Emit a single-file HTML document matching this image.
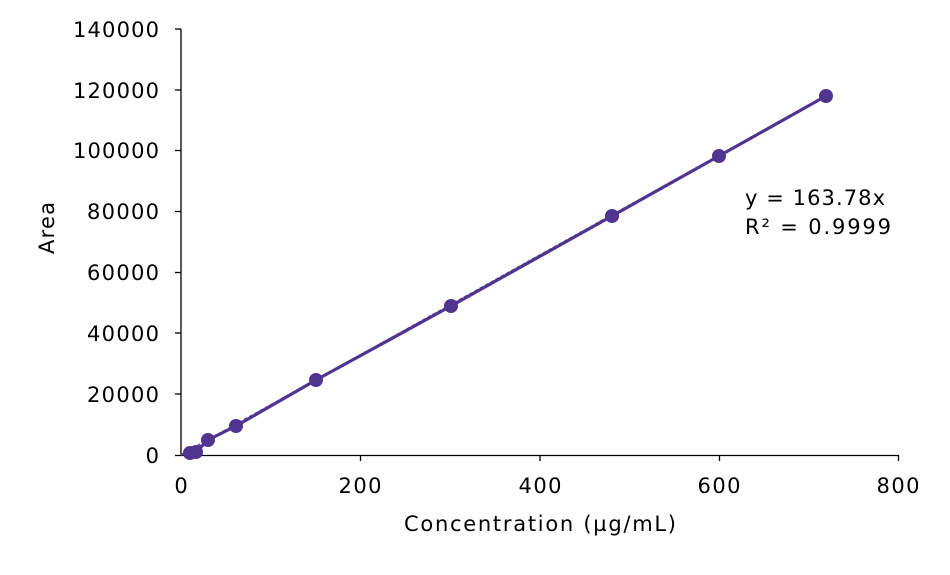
<!DOCTYPE html>
<html><head><meta charset="utf-8"><style>body{margin:0;background:#fff}</style></head><body>
<svg width="950" height="570" xmlns="http://www.w3.org/2000/svg" font-family="'DejaVu Sans','Liberation Sans',sans-serif" font-size="21" fill="#000">
<g stroke="#000" stroke-width="1.3">
<line x1="181" y1="29" x2="181" y2="456"/>
<line x1="175" y1="455.5" x2="899" y2="455.5"/>
<line x1="175" y1="29" x2="181" y2="29"/><line x1="175" y1="90" x2="181" y2="90"/><line x1="175" y1="150.5" x2="181" y2="150.5"/><line x1="175" y1="211.5" x2="181" y2="211.5"/><line x1="175" y1="272.5" x2="181" y2="272.5"/><line x1="175" y1="333" x2="181" y2="333"/><line x1="175" y1="394" x2="181" y2="394"/>
<line x1="360.5" y1="455" x2="360.5" y2="461"/><line x1="540" y1="455" x2="540" y2="461"/><line x1="719.5" y1="455" x2="719.5" y2="461"/><line x1="898.5" y1="455" x2="898.5" y2="461"/>
</g>
<g text-anchor="end">
<text x="159" y="37" textLength="86">140000</text><text x="159" y="98" textLength="86">120000</text><text x="159" y="158" textLength="86">100000</text><text x="159" y="219" textLength="72">80000</text><text x="159" y="280" textLength="72">60000</text><text x="159" y="341" textLength="72">40000</text><text x="159" y="402" textLength="72">20000</text><text x="159" y="463">0</text>
</g>
<g text-anchor="middle">
<text x="181" y="493">0</text><text x="360" y="493" textLength="43">200</text><text x="540" y="493" textLength="43">400</text><text x="719" y="493" textLength="43">600</text><text x="898" y="493" textLength="43">800</text>
<text x="540" y="531" textLength="272">Concentration (µg/mL)</text>
<text transform="translate(54,228) rotate(-90)" textLength="52">Area</text>
</g>
<text x="745" y="205" textLength="140">y = 163.78x</text>
<text x="745" y="234" textLength="146">R² = 0.9999</text>
<line x1="181" y1="455" x2="826" y2="96" stroke="#5b4a9a" stroke-width="2" stroke-dasharray="4,2"/>
<polyline fill="none" stroke="#4f3590" stroke-width="3.2" points="190,453 196,452 208,440 236,426 316,380 451,306 612,216 719,156 826,96"/>
<g fill="#4f3590">
<circle cx="190" cy="453" r="7"/><circle cx="196" cy="452" r="7"/><circle cx="208" cy="440" r="7"/><circle cx="236" cy="426" r="7"/><circle cx="316" cy="380" r="7"/><circle cx="451" cy="306" r="7"/><circle cx="612" cy="216" r="7"/><circle cx="719" cy="156" r="7"/><circle cx="826" cy="96" r="7"/>
</g>
</svg>
</body></html>
